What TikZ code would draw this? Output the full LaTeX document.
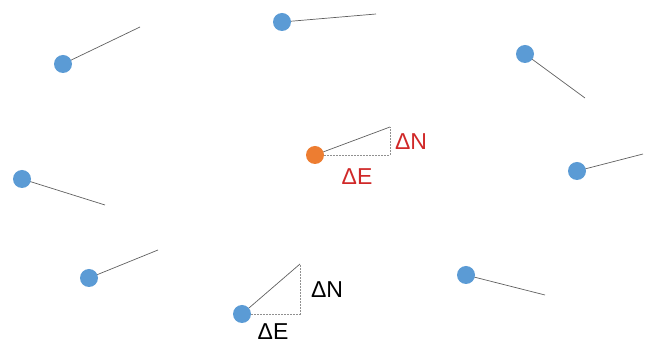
\documentclass[tikz,border=0pt]{standalone}
\usepackage{fontspec}
\setmainfont{Liberation Sans}
\definecolor{dotblue}{HTML}{5B9BD5}
\definecolor{dotorange}{HTML}{ED7D31}
\definecolor{lbred}{HTML}{D02828}
\definecolor{lgray}{HTML}{606060}
\definecolor{dgray}{HTML}{909090}
\begin{document}
\begin{tikzpicture}[x=1pt,y=-1pt,
  bdot/.style={circle,fill=dotblue,minimum size=18pt,inner sep=0pt},
  odot/.style={circle,fill=dotorange,minimum size=18pt,inner sep=0pt},
  vec/.style={draw=lgray,line width=0.7pt},
  helper/.style={draw=dgray,dash pattern=on 1.5pt off 1.5pt,line width=0.7pt},
  lbl/.style={font=\fontsize{23}{27}\selectfont,inner sep=0pt}]
\useasboundingbox (0,0) rectangle (649,344);
% vector tips
\coordinate (t1) at (140,27);
\coordinate (t2) at (376,14);
\coordinate (t3) at (585,98);
\coordinate (t4) at (390,127);
\coordinate (t5) at (105,205);
\coordinate (t6) at (643,154);
\coordinate (t7) at (158,250);
\coordinate (t8) at (300,264);
\coordinate (t9) at (545,295);
\coordinate (c4) at (390,155);
\coordinate (c8) at (300,314);
% dot centres
\coordinate (p1) at (63,64);
\coordinate (p2) at (282,22);
\coordinate (p3) at (525,54);
\coordinate (p4) at (315,155);
\coordinate (p5) at (22,179);
\coordinate (p6) at (577,171);
\coordinate (p7) at (89,278);
\coordinate (p8) at (242,314);
\coordinate (p9) at (466,275);
% helper triangles
\draw[helper] (p4) -- (c4) -- (t4);
\draw[helper] (p8) -- (c8) -- (t8);
% vectors
\foreach \i in {1,...,9} \draw[vec] (p\i) -- (t\i);
% dots
\node[bdot] (d1) at (p1) {};
\node[bdot] (d2) at (p2) {};
\node[bdot] (d3) at (p3) {};
\node[odot] (d4) at (p4) {};
\node[bdot] (d5) at (p5) {};
\node[bdot] (d6) at (p6) {};
\node[bdot] (d7) at (p7) {};
\node[bdot] (d8) at (p8) {};
\node[bdot] (d9) at (p9) {};
% labels
\node[lbl,text=lbred] (rN) at (411,142) {ΔN};
\node[lbl,text=lbred] (rE) at (357,177) {ΔE};
\node[lbl] (bN) at (327,290) {ΔN};
\node[lbl] (bE) at (273,332) {ΔE};
\end{tikzpicture}
\end{document}
